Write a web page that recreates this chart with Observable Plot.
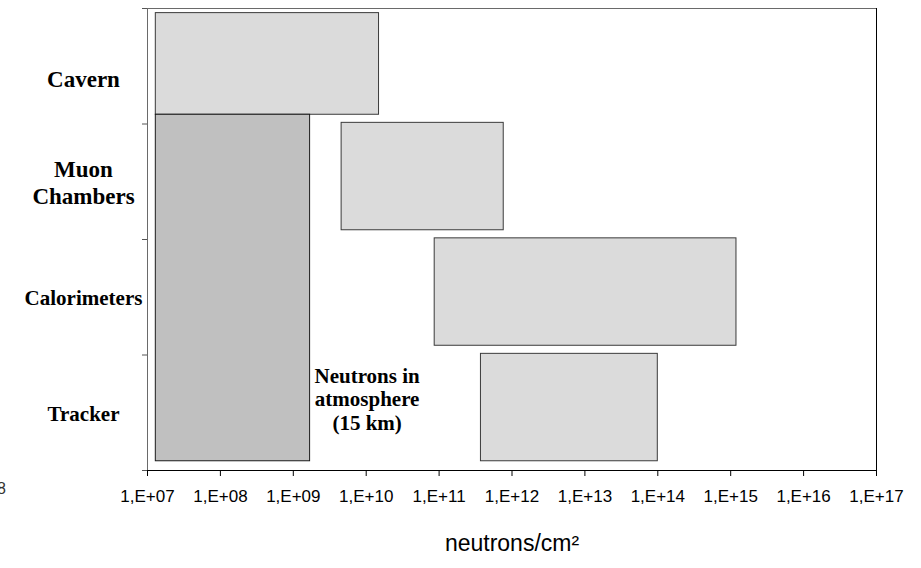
<!DOCTYPE html>
<html>
<head>
<meta charset="utf-8">
<script src="https://cdn.jsdelivr.net/npm/d3@7"></script>
<script src="https://cdn.jsdelivr.net/npm/@observablehq/plot@0.6"></script>
<style>
  html, body { margin: 0; padding: 0; background: #fff; }
  #wrap { position: relative; width: 921px; height: 568px; overflow: hidden; }
  #stray { position: absolute; left: -3px; top: 480px; font: 16px "Liberation Sans", Arial, sans-serif; color: #333; }
</style>
</head>
<body>
<div id="wrap"><div id="stray">8</div></div>
<script>
// Categories (bottom to top) and their neutron fluence ranges (neutrons/cm²)
const categories = ["Tracker", "Calorimeters", "Muon\nChambers", "Cavern"];
const fluenceLow = [3.75e11, 8.7e10, 4.6e9, 1.3e7];
const fluenceHigh = [1.0e14, 1.2e15, 7.7e11, 1.5e10];

// Reference band: neutrons in atmosphere (15 km)
const atmosphereLabel = "Neutrons in\natmosphere\n(15 km)";
const atmosphereLow = 1.3e7;
const atmosphereHigh = 1.7e9;

// Axis ticks
const xTicks = [1e7, 1e8, 1e9, 1e10, 1e11, 1e12, 1e13, 1e14, 1e15, 1e16, 1e17];
const xTickLabels = ["1,E+07", "1,E+08", "1,E+09", "1,E+10", "1,E+11", "1,E+12", "1,E+13", "1,E+14", "1,E+15", "1,E+16", "1,E+17"];
const xLabel = "neutrons/cm\u00B2";

const bars = categories.map((c, i) => ({
  cat: c,
  x1: fluenceLow[i],
  x2: fluenceHigh[i],
  y1: i + 0.08,
  y2: Math.min(i + 1.01, 3.96)
}));
const atm = [{
  x1: atmosphereLow,
  x2: atmosphereHigh,
  y1: bars[0].y1,
  y2: bars[bars.length - 1].y1
}];
const catLabels = categories.map((c, i) => ({
  label: c,
  y: i + 0.5 - (i === categories.length - 1 ? 0.1 : 0),
  size: i >= 2 ? 23 : 21
}));
const tickLabels = xTicks.map((v, i) => ({ x: v, label: xTickLabels[i] }));

const serif = "'Liberation Serif', 'Times New Roman', serif";

const chart = Plot.plot({
  width: 921,
  height: 568,
  marginLeft: 147,
  marginRight: 45,
  marginTop: 8,
  marginBottom: 98,
  x: { type: "log", domain: [1e7, 1e17] },
  y: { domain: [0, 4] },
  style: { fontFamily: "'Liberation Sans', Arial, sans-serif", background: "white", color: "#000" },
  marks: [
    Plot.rect(bars, { x1: "x1", x2: "x2", y1: "y1", y2: "y2", fill: "#dbdbdb", stroke: "#3a3a3a", strokeWidth: 1 }),
    Plot.rect(atm, { x1: "x1", x2: "x2", y1: "y1", y2: "y2", fill: "#c0c0c0", stroke: "#1a1a1a", strokeWidth: 1 }),
    Plot.frame({ stroke: "#6a6a6a" }),
    Plot.ruleY([0], { stroke: "#000" }),
    Plot.ruleX([1e17], { stroke: "#000" }),
    Plot.axisX({
      ticks: xTicks,
      tickFormat: () => "",
      tickSize: 6,
      label: null
    }),
    Plot.text(tickLabels, {
      x: "x",
      text: "label",
      frameAnchor: "bottom",
      dy: 31,
      fontSize: 17,
      fill: "#000"
    }),
    Plot.axisY({ ticks: [0, 1, 2, 3, 4], tickSize: 5, tickFormat: () => "", label: null, stroke: "#555" }),
    Plot.text(catLabels, {
      y: "y",
      text: "label",
      frameAnchor: "left",
      dx: -64,
      textAnchor: "middle",
      fontFamily: serif,
      fontWeight: "bold",
      fontSize: "size",
      lineHeight: 1.2,
      fill: "#000"
    }),
    Plot.text([atmosphereLabel], {
      x: () => atmosphereHigh,
      y: () => 0.5,
      text: d => d,
      dx: 57,
      dy: -14,
      textAnchor: "middle",
      fontFamily: serif,
      fontWeight: "bold",
      fontSize: 21,
      lineHeight: 1.12,
      fill: "#000"
    }),
    Plot.text([xLabel], {
      text: d => d,
      frameAnchor: "bottom",
      dy: 80,
      fontSize: 23,
      fill: "#000"
    })
  ]
});
document.getElementById("wrap").prepend(chart);
</script>
</body>
</html>
